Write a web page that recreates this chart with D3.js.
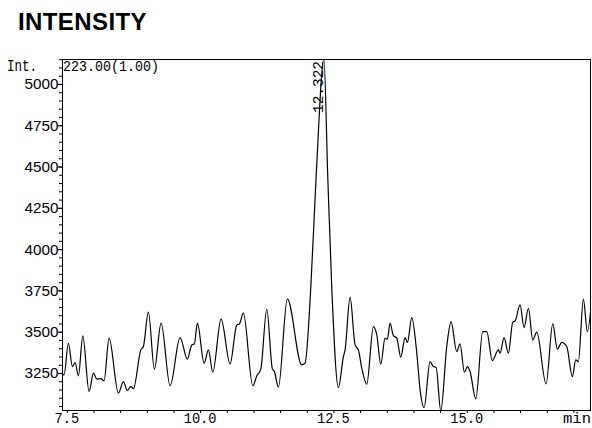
<!DOCTYPE html>
<html>
<head>
<meta charset="utf-8">
<script src="https://cdn.jsdelivr.net/npm/d3@7"></script>
<style>
  html, body { margin: 0; padding: 0; background: #fff; }
  svg { display: block; }
</style>
</head>
<body>
<svg id="chart" width="592" height="428"></svg>
<script>
// ---- data ----
const chartTitle = "INTENSITY";
const yAxisLabel = "Int.";
const channelLabel = "223.00(1.00)";
const xUnitLabel = "min";
const peakTimes = [12.322];
const peakLabels = ["12.322"];
const peakHeights = [5150];

const times = [
  7.412, 7.449, 7.530, 7.605, 7.656, 7.718, 7.800, 7.918, 7.999, 8.063,
  8.138, 8.199, 8.293, 8.468, 8.561, 8.636, 8.700, 8.749, 8.888, 8.936,
  9.030, 9.143, 9.268, 9.437, 9.624, 9.761, 9.844, 9.893, 9.949, 10.075,
  10.155, 10.238, 10.393, 10.562, 10.688, 10.736, 10.811, 10.988, 11.063, 11.138,
  11.250, 11.355, 11.393, 11.468, 11.636, 11.906, 11.968, 12.075, 12.178, 12.322,
  12.392, 12.469, 12.593, 12.687, 12.718, 12.812, 12.906, 12.968, 13.032, 13.125,
  13.249, 13.313, 13.388, 13.468, 13.512, 13.562, 13.624, 13.688, 13.763, 13.844,
  13.887, 13.969, 14.063, 14.125, 14.200, 14.312, 14.374, 14.425, 14.513, 14.625,
  14.706, 14.812, 14.875, 14.955, 15.012, 15.062, 15.169, 15.300, 15.375, 15.480,
  15.593, 15.625, 15.700, 15.780, 15.863, 15.906, 16.000, 16.075, 16.156, 16.238,
  16.313, 16.487, 16.613, 16.699, 16.782, 16.875, 16.980, 17.044, 17.093, 17.187,
  17.262, 17.350
];
const intensities = [
  3245, 3239, 3430, 3289, 3313, 3233, 3475, 3138, 3249, 3213,
  3216, 3202, 3461, 3128, 3198, 3144, 3168, 3154, 3390, 3410,
  3618, 3273, 3552, 3172, 3464, 3334, 3420, 3426, 3552, 3309,
  3390, 3255, 3578, 3305, 3541, 3547, 3612, 3172, 3233, 3273,
  3636, 3275, 3259, 3164, 3699, 3299, 3309, 3765, 4455, 5150,
  4455, 3765, 3162, 3349, 3390, 3709, 3420, 3390, 3279, 3182,
  3531, 3481, 3303, 3461, 3455, 3552, 3476, 3461, 3346, 3464,
  3434, 3585, 3370, 3148, 3041, 3319, 3289, 3285, 3020, 3410,
  3561, 3380, 3426, 3255, 3289, 3259, 3093, 3501, 3501, 3325,
  3390, 3370, 3464, 3370, 3558, 3565, 3662, 3525, 3642, 3450,
  3497, 3184, 3547, 3394, 3436, 3410, 3228, 3329, 3319, 3697,
  3501, 3723
];

const xMajorTicks = [7.5, 10.0, 12.5, 15.0];
const xMajorLabels = ["7.5", "10.0", "12.5", "15.0"];
const xMinorTicks = d3.range(7.5, 17.01, 0.5);
const yMajorTicks = [3250, 3500, 3750, 4000, 4250, 4500, 4750, 5000];
const yMinorTicks = d3.range(3050, 5151, 50);
const xDomain = [7.41, 17.33];
const yDomain = [3026, 5151];

// ---- layout ----
const svg = d3.select("#chart");
const L = 62, R = 591, T = 59, B = 410;
const x = d3.scaleLinear().domain(xDomain).range([L, R]);
const y = d3.scaleLinear().domain(yDomain).range([B, T]);

const monoFont = "'Liberation Mono', 'DejaVu Sans Mono', monospace";
const sansFont = "'Liberation Sans', Arial, sans-serif";

// title
svg.append("text")
  .attr("x", 18).attr("y", 30)
  .attr("font-family", sansFont)
  .attr("font-weight", "bold")
  .attr("font-size", 24)
  .attr("letter-spacing", 0.4)
  .attr("fill", "#000")
  .text(chartTitle);

// clip
svg.append("defs").append("clipPath").attr("id", "plotclip")
  .append("rect").attr("x", L).attr("y", T).attr("width", R - L).attr("height", B - T);

// trace
const line = d3.line()
  .x((d, i) => x(times[i]))
  .y((d) => y(d))
  .curve(d3.curveMonotoneX);

svg.append("path")
  .attr("clip-path", "url(#plotclip)")
  .attr("d", line(intensities))
  .attr("fill", "none")
  .attr("stroke", "#000")
  .attr("stroke-width", 1.2)
  .attr("stroke-linejoin", "round");

// frame
svg.append("rect")
  .attr("x", L + 0.5).attr("y", T + 0.5)
  .attr("width", R - L - 1).attr("height", B - T)
  .attr("fill", "none").attr("stroke", "#000").attr("stroke-width", 1);

// x axis ticks
const xAxisG = svg.append("g").attr("transform", `translate(0,${B})`);
xAxisG.call(d3.axisBottom(x).tickValues(xMinorTicks).tickSize(3).tickFormat(""))
  .call(g => g.select(".domain").remove())
  .call(g => g.selectAll("line").attr("stroke", "#000").attr("stroke-width", 1));

xMajorTicks.forEach((t, i) => {
  const lab = xMajorLabels[i];
  svg.append("text")
    .attr("x", x(t)).attr("y", 423)
    .attr("text-anchor", "middle")
    .attr("font-family", monoFont)
    .attr("font-size", 15)
    .attr("textLength", lab.length * 8.2)
    .attr("lengthAdjust", "spacingAndGlyphs")
    .attr("fill", "#000")
    .text(lab);
});
svg.append("text")
  .attr("x", R).attr("y", 423)
  .attr("text-anchor", "end")
  .attr("font-family", monoFont)
  .attr("font-size", 15)
  .attr("textLength", 28)
  .attr("lengthAdjust", "spacingAndGlyphs")
  .attr("fill", "#000")
  .text(xUnitLabel);

// y axis ticks
const yAxisG = svg.append("g").attr("transform", `translate(${L},0)`);
yAxisG.call(d3.axisLeft(y).tickValues(yMinorTicks).tickSize(3).tickFormat(""))
  .call(g => g.select(".domain").remove())
  .call(g => g.selectAll("line").attr("stroke", "#000").attr("stroke-width", 1));
yAxisG.append("g").call(d3.axisLeft(y).tickValues(yMajorTicks).tickSize(4).tickFormat(""))
  .call(g => g.select(".domain").remove())
  .call(g => g.selectAll("line").attr("stroke", "#000").attr("stroke-width", 1));

yMajorTicks.forEach(v => {
  svg.append("text")
    .attr("x", 58.5).attr("y", y(v))
    .attr("dy", "0.36em")
    .attr("text-anchor", "end")
    .attr("font-family", sansFont)
    .attr("font-size", 15)
    .attr("textLength", 34)
    .attr("lengthAdjust", "spacingAndGlyphs")
    .attr("fill", "#000")
    .text(v);
});

// header labels
svg.append("text")
  .attr("x", 7).attr("y", 71)
  .attr("font-family", monoFont)
  .attr("font-size", 16)
  .attr("textLength", 30)
  .attr("lengthAdjust", "spacingAndGlyphs")
  .attr("fill", "#000")
  .text(yAxisLabel);
svg.append("text")
  .attr("x", 63).attr("y", 71)
  .attr("font-family", monoFont)
  .attr("font-size", 15)
  .attr("textLength", 96)
  .attr("lengthAdjust", "spacingAndGlyphs")
  .attr("fill", "#000")
  .text(channelLabel);

// peak labels
peakTimes.forEach((t, i) => {
  const lab = peakLabels[i];
  svg.append("text")
    .attr("transform", `translate(${x(t) - 0.5},113) rotate(-90)`)
    .attr("font-family", monoFont)
    .attr("font-size", 15)
    .attr("textLength", 52)
    .attr("lengthAdjust", "spacingAndGlyphs")
    .attr("fill", "#000")
    .text(lab);
});
</script>
</body>
</html>
